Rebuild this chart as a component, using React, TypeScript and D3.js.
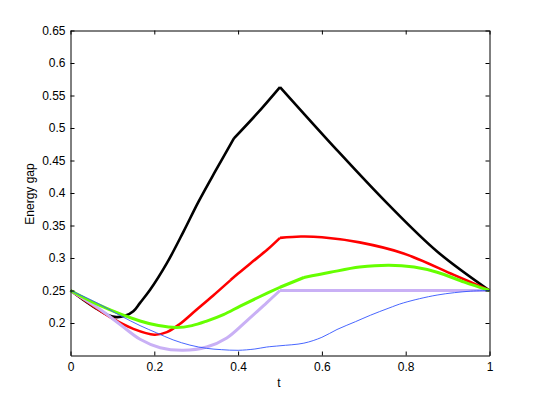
import { useEffect, useRef } from 'react';
import * as d3 from 'd3';

// values, [t, gap]
const blackSeries: [number, number][] = [
  [0, 0.25], [0.03, 0.236], [0.06, 0.223], [0.09, 0.212], [0.11, 0.209], [0.13, 0.211],
  [0.15, 0.218], [0.166, 0.231], [0.19, 0.251], [0.23, 0.292], [0.27, 0.341], [0.305, 0.386],
  [0.346, 0.434], [0.39, 0.484], [0.445, 0.522], [0.5, 0.563], [0.636, 0.466], [0.756, 0.384],
  [0.875, 0.31], [1, 0.25],
];
const redSeries: [number, number][] = [
  [0, 0.25], [0.05, 0.228], [0.1, 0.207], [0.15, 0.191], [0.2, 0.182], [0.23, 0.186],
  [0.26, 0.198], [0.3, 0.22], [0.34, 0.242], [0.382, 0.266], [0.4, 0.276], [0.43, 0.292],
  [0.47, 0.313], [0.5, 0.331], [0.55, 0.333], [0.6, 0.332], [0.69, 0.324], [0.795, 0.307],
  [0.915, 0.274], [1, 0.25],
];
const greenSeries: [number, number][] = [
  [0, 0.25], [0.07, 0.227], [0.166, 0.203], [0.21, 0.196], [0.253, 0.193], [0.29, 0.196],
  [0.325, 0.203], [0.365, 0.213], [0.405, 0.226], [0.45, 0.24], [0.5, 0.255], [0.557, 0.27],
  [0.62, 0.278], [0.69, 0.286], [0.76, 0.289], [0.82, 0.286], [0.875, 0.278], [0.94, 0.263],
  [1, 0.25],
];
const lilacSeries: [number, number][] = [
  [0, 0.25], [0.07, 0.221], [0.12, 0.197], [0.166, 0.175], [0.214, 0.162], [0.269, 0.158],
  [0.325, 0.163], [0.373, 0.177], [0.42, 0.203], [0.468, 0.231], [0.5, 0.25], [1, 0.25],
];
const blueSeries: [number, number][] = [
  [0, 0.25], [0.06, 0.232], [0.12, 0.211], [0.166, 0.196], [0.205, 0.185], [0.245, 0.174],
  [0.285, 0.166], [0.325, 0.161], [0.36, 0.159], [0.4, 0.158], [0.44, 0.16], [0.468, 0.163],
  [0.5, 0.165], [0.557, 0.169], [0.6, 0.178], [0.636, 0.19], [0.68, 0.202], [0.716, 0.212],
  [0.76, 0.223], [0.795, 0.231], [0.875, 0.243], [0.955, 0.249], [1, 0.25],
];

// t values where a curve has a corner
const blackKinks = [0.39, 0.5];
const redKinks = [0.382, 0.5];
const greenKinks = [0.5, 0.557];
const lilacKinks = [0.5];
const blueKinks: number[] = [];

const xTicks = [0, 0.2, 0.4, 0.6, 0.8, 1];
const yTicks = [0.2, 0.25, 0.3, 0.35, 0.4, 0.45, 0.5, 0.55, 0.6, 0.65];

const FONT = '"Liberation Sans", Arial, sans-serif';

// cut a series into smooth pieces at its corners
function splitAt(data: [number, number][], kinks: number[]) {
  const pieces: [number, number][][] = [];
  let cur: [number, number][] = [];
  data.forEach(p => {
    cur.push(p);
    if (kinks.includes(p[0])) {
      pieces.push(cur);
      cur = [p];
    }
  });
  if (cur.length > 1) pieces.push(cur);
  return pieces;
}

export default function App() {
  const ref = useRef<SVGSVGElement>(null);

  useEffect(() => {
    const svg = d3.select(ref.current);
    svg.selectAll('*').remove();

    const x = d3.scaleLinear().domain([0, 1]).range([70.5, 489.5]);
    const y = d3.scaleLinear().domain([0.15, 0.65]).range([355.5, 30.5]);

    svg.append('rect').attr('width', 540).attr('height', 401).attr('fill', '#fff');

    const line = d3.line<[number, number]>()
      .x(d => x(d[0]))
      .y(d => y(d[1]))
      .curve(d3.curveCatmullRom.alpha(0.5));

    const series = [
      { data: blackSeries, kinks: blackKinks, color: '#000000', width: 2.6 },
      { data: redSeries, kinks: redKinks, color: '#ff0000', width: 2.6 },
      { data: lilacSeries, kinks: lilacKinks, color: '#c9b0f5', width: 3 },
      { data: greenSeries, kinks: greenKinks, color: '#66ff00', width: 3 },
      { data: blueSeries, kinks: blueKinks, color: '#3355ff', width: 0.9 },
    ];

    const plot = svg.append('g');
    series.forEach(s => {
      const d = splitAt(s.data, s.kinks).map(piece => line(piece)).join('');
      plot.append('path')
        .attr('d', d)
        .attr('fill', 'none')
        .attr('stroke', s.color)
        .attr('stroke-width', s.width)
        .attr('stroke-linejoin', 'miter');
    });

    const fmt = (d: d3.NumberValue) => String(+d);

    // bottom + left with labels, ticks pointing inward
    const bottom = svg.append('g')
      .attr('transform', `translate(0,${y(0.15)})`)
      .call(d3.axisBottom(x).tickValues(xTicks).tickFormat(fmt).tickSizeInner(-4).tickSizeOuter(0).tickPadding(7));
    const left = svg.append('g')
      .attr('transform', `translate(${x(0)},0)`)
      .call(d3.axisLeft(y).tickValues(yTicks).tickFormat(fmt).tickSizeInner(-4).tickSizeOuter(0).tickPadding(5));
    // top + right, ticks only
    const top = svg.append('g')
      .attr('transform', `translate(0,${y(0.65)})`)
      .call(d3.axisTop(x).tickValues(xTicks).tickFormat(() => '').tickSizeInner(-4).tickSizeOuter(0));
    const right = svg.append('g')
      .attr('transform', `translate(${x(1)},0)`)
      .call(d3.axisRight(y).tickValues(yTicks).tickFormat(() => '').tickSizeInner(-4).tickSizeOuter(0));

    [bottom, left, top, right].forEach(g => {
      g.selectAll('path, line').attr('stroke', '#000').attr('stroke-width', 1);
      g.selectAll('text').attr('font-family', FONT).attr('font-size', 12).attr('fill', '#000');
    });

    svg.append('text')
      .attr('x', 279)
      .attr('y', 387)
      .attr('text-anchor', 'middle')
      .attr('font-family', FONT)
      .attr('font-size', 12)
      .text('t');

    svg.append('text')
      .attr('transform', 'translate(34,194) rotate(-90)')
      .attr('text-anchor', 'middle')
      .attr('font-family', FONT)
      .attr('font-size', 12)
      .text('Energy gap');
  }, []);

  return (
    <svg
      ref={ref}
      width={540}
      height={401}
      style={{ position: 'absolute', left: 0, top: 0, display: 'block' }}
    />
  );
}
